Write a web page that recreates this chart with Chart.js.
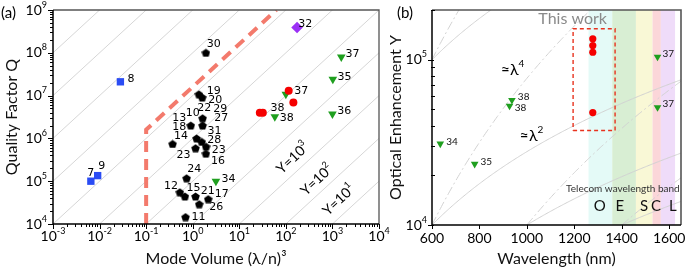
<!DOCTYPE html>
<html><head><meta charset="utf-8">
<script src="https://cdn.jsdelivr.net/npm/chart.js@4.4.0/dist/chart.umd.min.js"></script>
<style>
html,body{margin:0;padding:0;background:#fff;}
#wrap{position:relative;width:687px;height:268px;overflow:hidden;background:#fff;}
#ca{position:absolute;left:0;top:0;}
#cb{position:absolute;left:386px;top:0;}
</style></head><body>
<div id="wrap"><canvas id="ca" width="400" height="268"></canvas><canvas id="cb" width="301" height="268"></canvas></div>
<script>
// ---------------- Panel (a) data ----------------
const pentV = [1.92,1.36,1.6,1.63,1.63,0.91,1.21,1.56,1.94,1.15,1.92,0.37,0.74,0.53,0.68,1.15,2.15,1.38,0.70];
const pentQ = [1e8,1.07e7,9e6,2.95e6,2e6,2e6,1e6,8.3e5,6.4e5,5.9e5,4.4e5,7.4e5,1.17e5,5.5e4,4.4e4,4.4e4,3.8e4,2.9e4,1.45e4];
const sqV = [0.028,0.0065,0.0091];
const sqQ = [2.1e7,1e5,1.35e5];
const diaV = [174];
const diaQ = [3.9e8];
const triV = [1550,1020,1000,100,58,3.15];
const triQ = [8e7,2.4e7,3.7e6,1.07e7,3.2e6,1e5];
const redV = [115,145,27.6,32];
const redQ = [1.3e7,6.9e6,4e6,4e6];
const boundV = [0.1,0.1,62.5];
const boundQ = [1e4,1.6e6,1e9];
const guideRatios = [1e0,1e1,1e2,1e3,1e4,1e5,1e6,1e7,1e8,1e9,1e10,1e11,1e12];
const xExpsA = [-3,-2,-1,0,1,2,3,4];
const yExpsA = [4,5,6,7,8,9];
const labA = ['8','30','19','20','22','29','27','10','13','18','31','14','28','23','23','16','24','12','15','21','17','34','26','11','7','9','32','37','35','36','37','38','38'];
const labAV = [0.040,1.99,1.99,2.15,1.25,2.75,2.89,0.705,0.363,0.363,2.09,0.395,2.05,2.55,0.451,2.46,0.762,0.241,0.74,1.48,2.99,4.17,2.26,0.946,0.00545,0.00938,184,1910,1285,1262,151,47,74.3];
const labAQ = [2.44e7,1.61e8,1.30e7,7.9e6,5.05e6,4.79e6,2.95e6,3.86e6,2.95e6,1.82e6,1.51e6,1.10e6,9.2e5,5.36e5,4.1e5,3.01e5,1.90e5,7.7e4,6.8e4,6.0e4,5.0e4,1.12e5,2.45e4,1.48e4,1.58e5,2.3e5,4.71e8,9.4e7,2.77e7,4.37e6,1.30e7,5.2e6,3.05e6];
const yLabExp = ['3','2','1'];
const yLabV = [141,462,1371];
const yLabQ = [3.48e5,1.07e5,3.64e4];

// ---------------- Panel (b) data ----------------
const wlTri = [635,780,937,927,1551,1551];
const enTri = [3.1e4,2.34e4,5.7e4,5.26e4,1.04e5,5.15e4];
const wlRed = [1278,1278,1278,1278];
const enRed = [1.34e5,1.22e5,1.11e5,4.79e4];
const bandStart = [1260,1360,1460,1530,1565];
const bandEnd = [1360,1460,1530,1565,1625];
const bandNames = ['O','E','S','C','L'];
const bandLabelWl = [1307,1392,1494,1545,1616];
const bandColors = ['#e4faf7','#d8eed3','#f9f8d6','#fbd6d9','#efdcf9'];
const boxWl = [1195,1372];
const boxEn = [3.73e4,1.54e5];
const guideWl0 = [600,600,1000,1400];
const guideEn0 = [1e4,1e5,1e4,1e4];
const guidePowers = [2,4];
const xTicksB = [600,800,1000,1200,1400,1600];
const yExpsB = [4,5];
const labB = ['38','38','34','35','37','37'];
const labBWl = [962,949,660,804,1572,1572];
const labBEn = [5.94e4,5.12e4,3.2e4,2.4e4,1.087e5,5.38e4];

const FONT = "Lato, 'Open Sans', sans-serif";

function pts(xs, ys){ return xs.map((v,i)=>({x:v,y:ys[i]})); }
function pentagon(size, color){
  const c=document.createElement('canvas'); c.width=c.height=size;
  const g=c.getContext('2d'); g.fillStyle=color; g.beginPath();
  const r=size/2;
  for(let i=0;i<5;i++){const a=-Math.PI/2+i*2*Math.PI/5;
    const px=r+r*Math.cos(a), py=r+r*Math.sin(a)+r*0.095;
    i?g.lineTo(px,py):g.moveTo(px,py);}
  g.closePath(); g.fill(); return c;
}
function supText(ctx, base, exp, x, y, align, bs, es){
  ctx.font = bs+'px '+FONT; const w1=ctx.measureText(base).width;
  ctx.font = es+'px '+FONT; const w2=ctx.measureText(exp).width;
  const x0 = align==='center' ? x-(w1+w2)/2 : (align==='right'? x-(w1+w2) : x);
  ctx.textAlign='left'; ctx.textBaseline='middle';
  ctx.font = bs+'px '+FONT; ctx.fillText(base,x0,y);
  ctx.font = es+'px '+FONT; ctx.fillText(exp,x0+w1,y-bs*0.38);
}
function hl(ctx,x1,y1,x2,y2){ctx.beginPath();ctx.moveTo(x1,y1);ctx.lineTo(x2,y2);ctx.stroke();}

// ---------------- Chart (a) ----------------
const guideSetsA = guideRatios.map(r=>({
  data: [{x:1e-3,y:r*1e-3},{x:1e4,y:r*1e4}], showLine:true, pointRadius:0,
  borderColor:'#d6d6d6', borderWidth:1, order:10
}));
const plugA = {
  id:'pa',
  afterDraw(chart){
    const {ctx, chartArea:{left,right,top,bottom}, scales:{x,y}} = chart;
    ctx.save();
    ctx.strokeStyle='#555'; ctx.lineWidth=1.3;
    ctx.beginPath(); ctx.moveTo(left,top); ctx.lineTo(right,top); ctx.lineTo(right,bottom); ctx.stroke();
    ctx.strokeStyle='#000'; ctx.lineWidth=1.5;
    ctx.beginPath(); ctx.moveTo(left,top); ctx.lineTo(left,bottom); ctx.lineTo(right,bottom); ctx.stroke();
    ctx.lineWidth=1; ctx.fillStyle='#000';
    xExpsA.forEach(e=>{
      for(let m=1;m<=9;m++){ const v=m*Math.pow(10,e); if(v>1e4*1.0001) break;
        const px=Math.round(x.getPixelForValue(v))+0.5; hl(ctx,px,bottom,px,bottom+(m===1?5:3)); }
      supText(ctx,'10',String(e),x.getPixelForValue(Math.pow(10,e)),bottom+12,'center',14,9);
    });
    yExpsA.forEach(e=>{
      for(let m=1;m<=9;m++){ const v=m*Math.pow(10,e); if(v>1e9*1.0001) break;
        const py=Math.round(y.getPixelForValue(v))+0.5; hl(ctx,left-(m===1?5:3),py,left,py); }
      supText(ctx,'10',String(e),left-6,y.getPixelForValue(Math.pow(10,e)),'right',14,9);
    });
    // point labels
    ctx.font="11px 'DejaVu Sans', sans-serif"; ctx.textAlign='left'; ctx.textBaseline='middle'; ctx.fillStyle='#000';
    labA.forEach((t,i)=>ctx.fillText(t,x.getPixelForValue(labAV[i]),y.getPixelForValue(labAQ[i])));
    // Y = 10^n labels
    yLabExp.forEach((t,i)=>{
      ctx.save(); ctx.translate(x.getPixelForValue(yLabV[i]),y.getPixelForValue(yLabQ[i]));
      ctx.rotate(-43*Math.PI/180); ctx.fillStyle='#000';
      supText(ctx,'Y=10',t,0,0,'center',14,9);
      ctx.restore();
    });
    ctx.font='15px '+FONT; ctx.textAlign='left'; ctx.textBaseline='middle'; ctx.fillStyle='#000';
    ctx.fillText('(a)',1,13);
    ctx.restore();
  }
};
new Chart(document.getElementById('ca'), {
  type:'scatter',
  data:{datasets:[
    {data:pts(pentV,pentQ), pointStyle:pentagon(9,'#000'), pointRadius:4.5, order:1},
    {data:pts(sqV,sqQ), pointStyle:'rect', pointRadius:5.2, backgroundColor:'#2a4cf4', borderColor:'#2a4cf4', borderWidth:0, order:1},
    {data:pts(diaV,diaQ), pointStyle:'rectRot', pointRadius:5.8, backgroundColor:'#9b30f5', borderColor:'#9b30f5', borderWidth:0, order:1},
    {data:pts(triV,triQ), pointStyle:'triangle', rotation:180, pointRadius:5, backgroundColor:'#1f9f1f', borderColor:'#1f9f1f', borderWidth:0, order:2},
    {data:pts(redV,redQ), pointStyle:'circle', pointRadius:4, backgroundColor:'#f50000', borderColor:'#f50000', borderWidth:0, order:0},
    {data:pts(boundV,boundQ), showLine:true, pointRadius:0, borderColor:'#f37a6c', borderWidth:4, borderDash:[11,7], order:5},
    ...guideSetsA
  ]},
  options:{
    responsive:false, animation:false, events:[],
    layout:{padding:{left:0,right:21,top:10,bottom:0}},
    plugins:{legend:{display:false}, tooltip:{enabled:false}},
    scales:{
      x:{type:'logarithmic', min:1e-3, max:1e4, ticks:{display:false}, grid:{display:false}, border:{display:false},
         title:{display:true, text:'Mode Volume (λ/n)³', color:'#111', font:{family:FONT,size:16}, padding:{top:0,bottom:0}},
         afterFit:s=>{s.height=44;}},
      y:{type:'logarithmic', min:1e4, max:1e9, ticks:{display:false}, grid:{display:false}, border:{display:false},
         title:{display:true, text:'Quality Factor Q', color:'#111', font:{family:FONT,size:16}, padding:{top:2,bottom:0}},
         afterFit:s=>{s.width=53;}}
    }
  },
  plugins:[plugA]
});

// ---------------- Chart (b) ----------------
const guideSetsB = [];
guideWl0.forEach((w0,i)=>{
  guidePowers.forEach(p=>{
    const d=[]; for(let w=w0; w<=1660; w+=5){ d.push({x:w, y:guideEn0[i]*Math.pow(w/w0,p)}); }
    guideSetsB.push({data:d, showLine:true, pointRadius:0, borderColor:'#d2d2d2', borderWidth:1,
      borderDash: p===4?[9,3,2,3]:[], order:10});
  });
});
const boxData = [{x:boxWl[0],y:boxEn[0]},{x:boxWl[1],y:boxEn[0]},{x:boxWl[1],y:boxEn[1]},{x:boxWl[0],y:boxEn[1]},{x:boxWl[0],y:boxEn[0]}];
const plugB = {
  id:'pb',
  beforeDatasetsDraw(chart){
    const {ctx, chartArea:{top,bottom}, scales:{x}} = chart;
    ctx.save();
    bandStart.forEach((s,i)=>{
      const x0=x.getPixelForValue(s), x1=x.getPixelForValue(bandEnd[i]);
      ctx.fillStyle=bandColors[i]; ctx.fillRect(x0,top,x1-x0,bottom-top);
    });
    ctx.restore();
  },
  afterDraw(chart){
    const {ctx, chartArea:{left,right,top,bottom}, scales:{x,y}} = chart;
    ctx.save();
    ctx.strokeStyle='#555'; ctx.lineWidth=1.6;
    ctx.beginPath(); ctx.moveTo(left,top); ctx.lineTo(right,top); ctx.lineTo(right,bottom); ctx.stroke();
    ctx.strokeStyle='#000'; ctx.lineWidth=1.5;
    ctx.beginPath(); ctx.moveTo(left,top); ctx.lineTo(left,bottom); ctx.lineTo(right,bottom); ctx.stroke();
    ctx.lineWidth=1; ctx.fillStyle='#000';
    xTicksB.forEach(v=>{
      const px=Math.round(x.getPixelForValue(v))+0.5; hl(ctx,px,bottom,px,bottom+4);
      ctx.font='14px '+FONT; ctx.textAlign='center'; ctx.textBaseline='middle';
      ctx.fillText(String(v),x.getPixelForValue(v),bottom+13);
    });
    yExpsB.forEach(e=>{
      for(let m=1;m<=9;m++){ const v=m*Math.pow(10,e); if(v>2e5*1.0001) break;
        const py=Math.round(y.getPixelForValue(v))+0.5;
        if(m===1) hl(ctx,left-4,py,left+2,py); else hl(ctx,left-1,py,left+3,py); }
      supText(ctx,'10',String(e),left-5,y.getPixelForValue(Math.pow(10,e)),'right',14,9);
    });
    // labels
    ctx.fillStyle='#111'; ctx.font='10px '+FONT; ctx.textAlign='left'; ctx.textBaseline='middle';
    labB.forEach((t,i)=>ctx.fillText(t,x.getPixelForValue(labBWl[i]),y.getPixelForValue(labBEn[i])));
    ctx.fillStyle='#000';
    supText(ctx,'≈λ','4',x.getPixelForValue(940)-12,y.getPixelForValue(8.7e4),'left',16,10);
    supText(ctx,'≈λ','2',x.getPixelForValue(1020)-12,y.getPixelForValue(3.46e4),'left',16,10);
    ctx.fillStyle='#8a8a8a'; ctx.font='16px '+FONT; ctx.textAlign='center'; ctx.textBaseline='middle';
    ctx.fillText('This work',x.getPixelForValue(1193),y.getPixelForValue(1.77e5));
    ctx.fillStyle='#333'; ctx.font='10px '+FONT;
    ctx.fillText('Telecom wavelength band',x.getPixelForValue(1405),y.getPixelForValue(1.65e4));
    ctx.fillStyle='#111'; ctx.font='15px '+FONT;
    bandNames.forEach((n,i)=>ctx.fillText(n,x.getPixelForValue(bandLabelWl[i]),y.getPixelForValue(1.30e4)));
    ctx.fillStyle='#000'; ctx.font='15px '+FONT; ctx.textAlign='left';
    ctx.fillText('(b)',11,13);
    ctx.restore();
  }
};
new Chart(document.getElementById('cb'), {
  type:'scatter',
  data:{datasets:[
    {data:pts(wlRed,enRed), pointStyle:'circle', pointRadius:3.6, backgroundColor:'#f50000', borderColor:'#f50000', borderWidth:0, order:0},
    {data:pts(wlTri,enTri), pointStyle:'triangle', rotation:180, pointRadius:4.4, backgroundColor:'#1f9f1f', borderColor:'#1f9f1f', borderWidth:0, order:1},
    {data:boxData, showLine:true, pointRadius:0, borderColor:'#e8321e', borderWidth:1.4, borderDash:[4,3], order:3},
    ...guideSetsB
  ]},
  options:{
    responsive:false, animation:false, events:[],
    layout:{padding:{left:0,right:6,top:10,bottom:0}},
    plugins:{legend:{display:false}, tooltip:{enabled:false}},
    scales:{
      x:{type:'linear', min:600, max:1650, ticks:{display:false}, grid:{display:false}, border:{display:false},
         title:{display:true, text:'Wavelength (nm)', color:'#111', font:{family:FONT,size:16}, padding:{top:0,bottom:0}},
         afterFit:s=>{s.height=43;}},
      y:{type:'logarithmic', min:1e4, max:2e5, ticks:{display:false}, grid:{display:false}, border:{display:false},
         title:{display:true, text:'Optical Enhancement Y', color:'#111', font:{family:FONT,size:16}, padding:{top:0,bottom:0}},
         afterFit:s=>{s.width=46;}}
    }
  },
  plugins:[plugB]
});
</script>
</body></html>
